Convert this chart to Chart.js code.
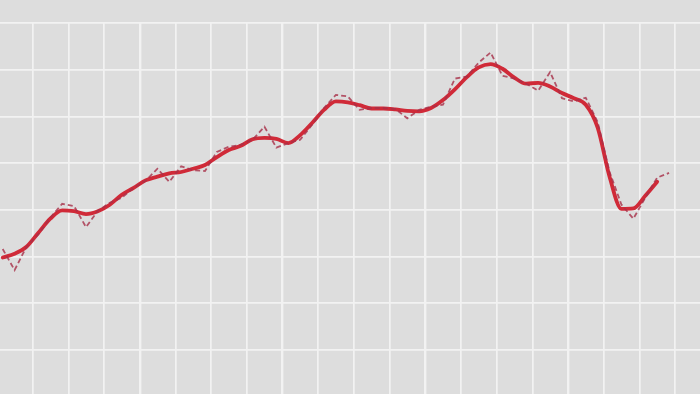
<!DOCTYPE html>
<html>
<head>
<meta charset="utf-8">
<script src="https://cdn.jsdelivr.net/npm/chart.js@4.4.1/dist/chart.umd.min.js"></script>
<style>
  html, body { margin: 0; padding: 0; background: #dddddd; overflow: hidden; }
  #wrap { width: 700px; height: 394px; background: #dddddd; }
</style>
</head>
<body>
<div id="wrap"><canvas id="chart" width="700" height="394"></canvas></div>
<script>
// raw series (dashed) and smoothed trend (solid), one value per period
const rawValues = [
  51.6, 47.1, 52.1, 54.8, 58.3, 61.3, 60.8, 56.3, 59.8, 61.5,
  62.6, 64.7, 66.2, 68.8, 66.0, 69.3, 68.5, 68.3, 72.4, 73.5,
  73.9, 75.0, 77.8, 73.3, 74.3, 75.0, 78.2, 81.8, 84.6, 84.3,
  81.4, 81.8, 81.8, 81.6, 79.6, 81.4, 82.1, 82.5, 88.1, 88.5,
  91.5, 93.7, 88.7, 88.1, 87.0, 85.5, 89.5, 83.9, 83.2, 84.0,
  78.8, 68.1, 61.1, 58.1, 62.6, 66.9, 67.9
];
const trendValues = [
  49.8, 50.6, 52.1, 55.1, 58.1, 59.9, 59.7, 59.1, 59.7, 61.1,
  63.2, 64.7, 66.3, 67.1, 67.8, 68.1, 68.8, 69.6, 71.3, 72.8,
  73.7, 75.1, 75.4, 75.2, 74.3, 76.0, 78.6, 81.4, 83.2, 83.0,
  82.4, 81.7, 81.7, 81.5, 81.2, 81.1, 81.8, 83.5, 85.8, 88.4,
  90.5, 91.2, 90.2, 88.3, 87.0, 87.2, 86.4, 85.0, 83.9, 82.5,
  77.6, 67.1, 60.2, 60.3, 63.0, 66.0
];
// grid positions (in period units) and value gridlines
const xGridStart = 2.52;
const xGridStep = 3;
const yGridValues = [30, 40, 50, 60, 70, 80, 90, 100];

const toPoints = arr => arr.map((v, i) => ({ x: i, y: v }));

const xGrid = [];
for (let v = xGridStart; v < 59; v += xGridStep) xGrid.push(v);

const bgPlugin = {
  id: "bg",
  beforeDraw(chart) {
    const c = chart.ctx;
    c.save();
    c.fillStyle = "#dddddd";
    c.fillRect(0, 0, chart.width, chart.height);
    c.restore();
  }
};

new Chart(document.getElementById("chart"), {
  type: "line",
  data: {
    datasets: [
      {
        data: toPoints(rawValues),
        borderColor: "rgba(168, 48, 72, 0.8)",
        borderWidth: 1.8,
        borderDash: [5, 3],
        pointRadius: 0,
        tension: 0
      },
      {
        data: toPoints(trendValues),
        borderColor: "#d02a38",
        borderWidth: 3.8,
        pointRadius: 0,
        tension: 0.3,
        cubicInterpolationMode: "monotone",
        borderCapStyle: "round",
        borderJoinStyle: "round"
      }
    ]
  },
  options: {
    responsive: false,
    animation: false,
    layout: { padding: { top: 23, left: 0, right: 0, bottom: 0 } },
    plugins: { legend: { display: false }, tooltip: { enabled: false } },
    scales: {
      x: {
        type: "linear",
        min: -0.227,
        max: 58.6,
        afterBuildTicks: axis => { axis.ticks = xGrid.map(v => ({ value: v })); },
        ticks: { display: false },
        border: { display: false },
        grid: {
          drawTicks: false,
          color: "#f2f2f2",
          lineWidth: ctx => (ctx.index % 4 === 3 ? 2.4 : 1.7)
        }
      },
      y: {
        type: "linear",
        min: 20.57,
        max: 100,
        afterBuildTicks: axis => { axis.ticks = yGridValues.map(v => ({ value: v })); },
        ticks: { display: false },
        border: { display: false },
        grid: { drawTicks: false, color: "#f2f2f2", lineWidth: 1.7 }
      }
    }
  },
  plugins: [bgPlugin]
});
</script>
</body>
</html>
